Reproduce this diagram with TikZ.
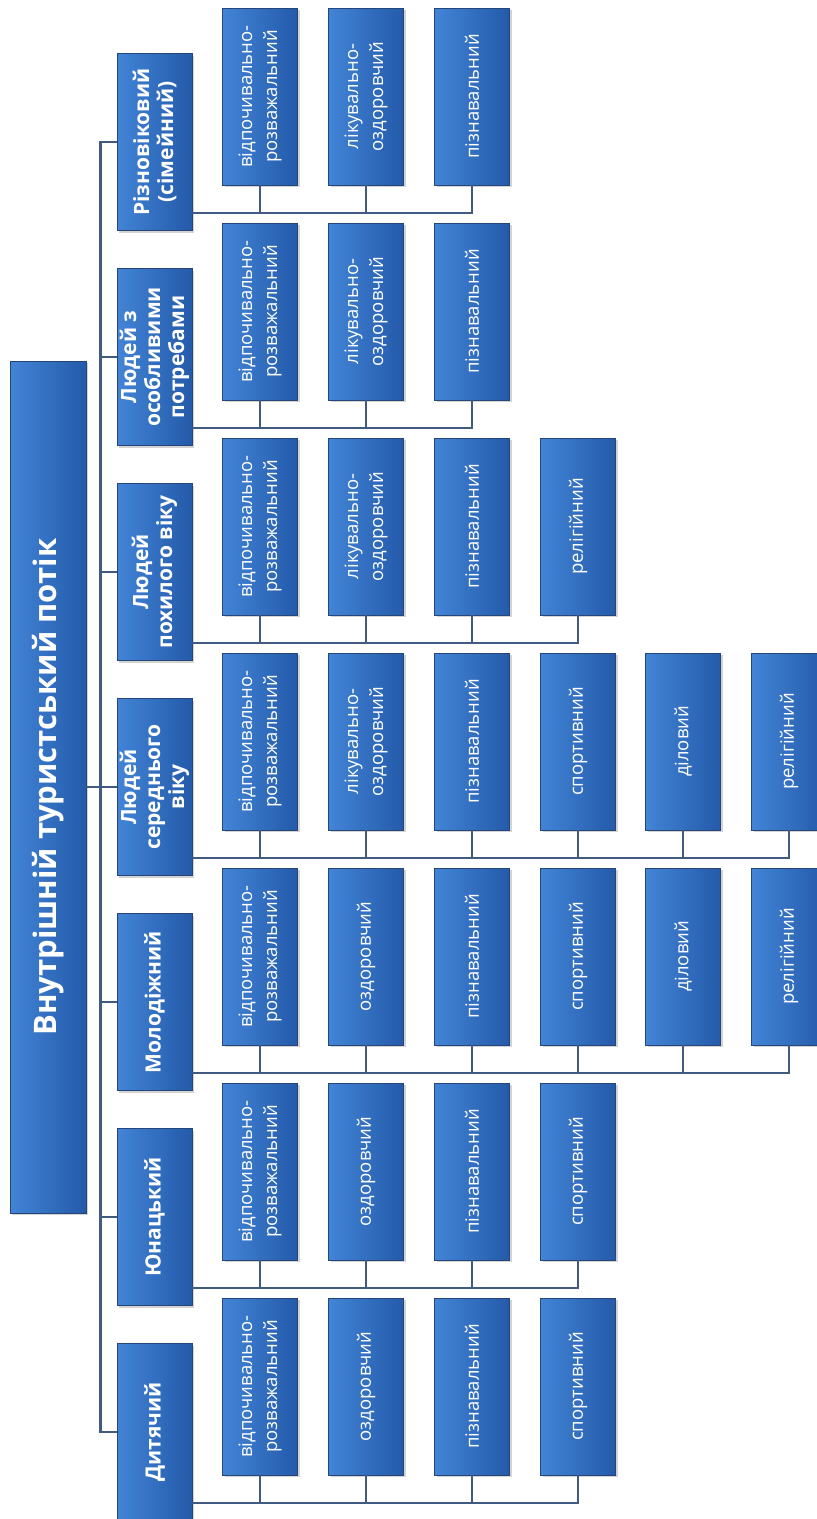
\documentclass[tikz,border=0pt]{standalone}
\usepackage{fontspec}
\setmainfont{Open Sans}
\usepackage{xcolor}
\usepackage{tikz}
\usetikzlibrary{calc, shadows}

\definecolor{boxlight}{RGB}{66,132,214}
\definecolor{boxdark}{RGB}{36,90,170}
\definecolor{boxline}{RGB}{38,70,122}
\definecolor{linkcol}{RGB}{64,90,128}

\begin{document}
\begin{tikzpicture}[x=1pt, y=-1pt,
  rootbox/.style={draw=boxline, left color=boxlight, right color=boxdark,
              rotate=90, minimum width=852pt, minimum height=76pt,
              text=white, font=\bfseries\fontsize{31}{36}\selectfont,
              drop shadow={opacity=0.35, shadow xshift=2pt, shadow yshift=-2pt}},
  cat/.style={draw=boxline, left color=boxlight, right color=boxdark,
              rotate=90, minimum width=177pt, minimum height=75pt,
              inner sep=2pt, align=center, text=white,
              font=\bfseries\fontsize{21}{24}\selectfont,
              drop shadow={opacity=0.35, shadow xshift=2pt, shadow yshift=-2pt}},
  leaf/.style={draw=boxline, left color=boxlight, right color=boxdark,
              rotate=90, minimum width=177pt, minimum height=75pt,
              inner sep=2pt, align=center, text=white,
              font=\fontsize{18.5}{25}\selectfont,
              drop shadow={opacity=0.35, shadow xshift=2pt, shadow yshift=-2pt}},
  link/.style={draw=linkcol, line width=2.2pt},
]
\useasboundingbox (0,0) rectangle (817,1519);

% ---- Root ------------------------------------------------------------------
\node[rootbox] (root) at (48,787) {Внутрішній туристський потік};

% ---- Groups ----------------------------------------------------------------
\node[cat] (ryz)  at (154.5,142)  {Різновіковий\\(сімейний)};
\node[cat] (osob) at (154.5,357)  {Людей з\\особливими\\потребами};
\node[cat] (pokh) at (154.5,572)  {Людей\\похилого віку};
\node[cat] (ser)  at (154.5,787)  {Людей\\середнього\\віку};
\node[cat] (mol)  at (154.5,1002) {Молодіжний};
\node[cat] (yun)  at (154.5,1217) {Юнацький};
\node[cat] (dyt)  at (154.5,1432) {Дитячий};

\coordinate (spine) at ($(root.south)!0.47!(ser.north)$);
\draw[link] (root.south) -- (ser.north);
\draw[link] (ryz.north) -| (spine) |- (dyt.north);
\draw[link] (osob.north) -- (osob.north -| spine);
\draw[link] (pokh.north) -- (pokh.north -| spine);
\draw[link] (mol.north)  -- (mol.north -| spine);
\draw[link] (yun.north)  -- (yun.north -| spine);

% ---- Різновіковий ----------------------------------------------------------
\node[leaf] (ryz1) at (260,96.5) {відпочивально-\\розважальний};
\node[leaf] (ryz2) at (366,96.5) {лікувально-\\оздоровчий};
\node[leaf] (ryz3) at (472,96.5) {пізнавальний};
\coordinate (ryz-bus) at ($(ryz.south)!0.8!(ryz.south west)$);
\draw[link] (ryz-bus) -| (ryz3.west);
\draw[link] (ryz1.west) -- (ryz1.west |- ryz-bus);
\draw[link] (ryz2.west) -- (ryz2.west |- ryz-bus);

% ---- Людей з особливими потребами ------------------------------------------
\node[leaf] (osob1) at (260,311.5) {відпочивально-\\розважальний};
\node[leaf] (osob2) at (366,311.5) {лікувально-\\оздоровчий};
\node[leaf] (osob3) at (472,311.5) {пізнавальний};
\coordinate (osob-bus) at ($(osob.south)!0.8!(osob.south west)$);
\draw[link] (osob-bus) -| (osob3.west);
\draw[link] (osob1.west) -- (osob1.west |- osob-bus);
\draw[link] (osob2.west) -- (osob2.west |- osob-bus);

% ---- Людей похилого віку ---------------------------------------------------
\node[leaf] (pokh1) at (260,526.5) {відпочивально-\\розважальний};
\node[leaf] (pokh2) at (366,526.5) {лікувально-\\оздоровчий};
\node[leaf] (pokh3) at (472,526.5) {пізнавальний};
\node[leaf] (pokh4) at (578,526.5) {релігійний};
\coordinate (pokh-bus) at ($(pokh.south)!0.8!(pokh.south west)$);
\draw[link] (pokh-bus) -| (pokh4.west);
\draw[link] (pokh1.west) -- (pokh1.west |- pokh-bus);
\draw[link] (pokh2.west) -- (pokh2.west |- pokh-bus);
\draw[link] (pokh3.west) -- (pokh3.west |- pokh-bus);

% ---- Людей середнього віку -------------------------------------------------
\node[leaf] (ser1) at (260,741.5) {відпочивально-\\розважальний};
\node[leaf] (ser2) at (366,741.5) {лікувально-\\оздоровчий};
\node[leaf] (ser3) at (472,741.5) {пізнавальний};
\node[leaf] (ser4) at (578,741.5) {спортивний};
\node[leaf] (ser5) at (683,741.5) {діловий};
\node[leaf] (ser6) at (789,741.5) {релігійний};
\coordinate (ser-bus) at ($(ser.south)!0.8!(ser.south west)$);
\draw[link] (ser-bus) -| (ser6.west);
\draw[link] (ser1.west) -- (ser1.west |- ser-bus);
\draw[link] (ser2.west) -- (ser2.west |- ser-bus);
\draw[link] (ser3.west) -- (ser3.west |- ser-bus);
\draw[link] (ser4.west) -- (ser4.west |- ser-bus);
\draw[link] (ser5.west) -- (ser5.west |- ser-bus);

% ---- Молодіжний ------------------------------------------------------------
\node[leaf] (mol1) at (260,956.5) {відпочивально-\\розважальний};
\node[leaf] (mol2) at (366,956.5) {оздоровчий};
\node[leaf] (mol3) at (472,956.5) {пізнавальний};
\node[leaf] (mol4) at (578,956.5) {спортивний};
\node[leaf] (mol5) at (683,956.5) {діловий};
\node[leaf] (mol6) at (789,956.5) {релігійний};
\coordinate (mol-bus) at ($(mol.south)!0.8!(mol.south west)$);
\draw[link] (mol-bus) -| (mol6.west);
\draw[link] (mol1.west) -- (mol1.west |- mol-bus);
\draw[link] (mol2.west) -- (mol2.west |- mol-bus);
\draw[link] (mol3.west) -- (mol3.west |- mol-bus);
\draw[link] (mol4.west) -- (mol4.west |- mol-bus);
\draw[link] (mol5.west) -- (mol5.west |- mol-bus);

% ---- Юнацький --------------------------------------------------------------
\node[leaf] (yun1) at (260,1171.5) {відпочивально-\\розважальний};
\node[leaf] (yun2) at (366,1171.5) {оздоровчий};
\node[leaf] (yun3) at (472,1171.5) {пізнавальний};
\node[leaf] (yun4) at (578,1171.5) {спортивний};
\coordinate (yun-bus) at ($(yun.south)!0.8!(yun.south west)$);
\draw[link] (yun-bus) -| (yun4.west);
\draw[link] (yun1.west) -- (yun1.west |- yun-bus);
\draw[link] (yun2.west) -- (yun2.west |- yun-bus);
\draw[link] (yun3.west) -- (yun3.west |- yun-bus);

% ---- Дитячий ---------------------------------------------------------------
\node[leaf] (dyt1) at (260,1386.5) {відпочивально-\\розважальний};
\node[leaf] (dyt2) at (366,1386.5) {оздоровчий};
\node[leaf] (dyt3) at (472,1386.5) {пізнавальний};
\node[leaf] (dyt4) at (578,1386.5) {спортивний};
\coordinate (dyt-bus) at ($(dyt.south)!0.8!(dyt.south west)$);
\draw[link] (dyt-bus) -| (dyt4.west);
\draw[link] (dyt1.west) -- (dyt1.west |- dyt-bus);
\draw[link] (dyt2.west) -- (dyt2.west |- dyt-bus);
\draw[link] (dyt3.west) -- (dyt3.west |- dyt-bus);

\end{tikzpicture}
\end{document}
